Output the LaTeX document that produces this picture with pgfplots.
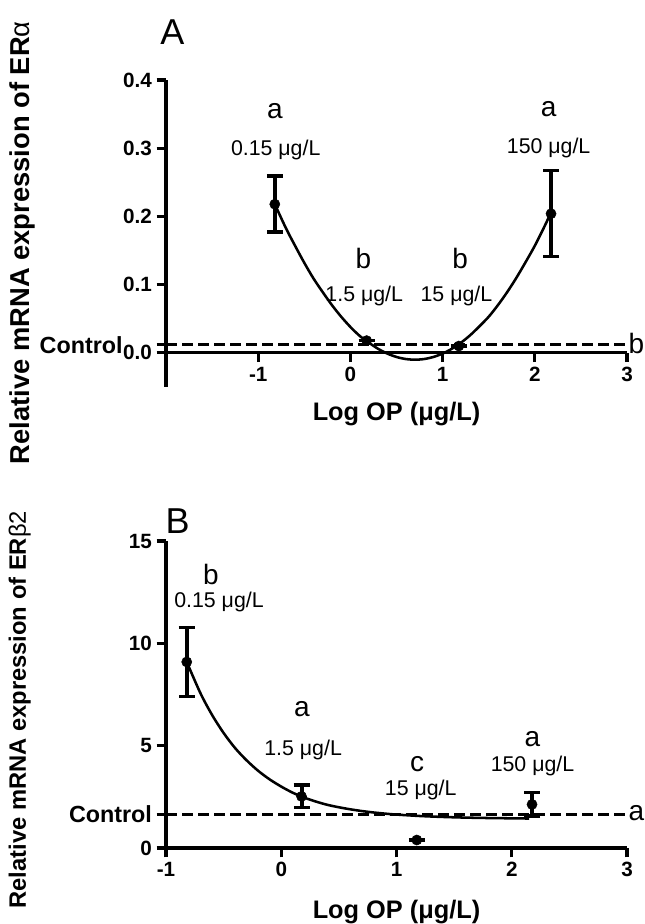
\documentclass[border=0pt]{standalone}
\usepackage{fontspec}
\setmainfont{Liberation Sans}
\usepackage{pgfplots}
\pgfplotsset{compat=1.18}

\newcommand{\ann}{\fontsize{16}{18}\selectfont}
\newcommand{\grp}{\fontsize{21}{24}\selectfont}

\pgfplotsset{
  panel/.style={
    scale only axis, width=345.75pt, height=230.25pt,
    axis y line*=left,
    axis line style={line width=2.4pt},
    every tick/.style={line width=2.4pt, black},
    tick align=outside, major tick length=7pt,
    tick label style={font=\fontsize{15.5}{16}\selectfont\bfseries},
    label style={font=\fontsize{19}{21}\selectfont\bfseries},
    hide obscured x ticks=false, hide obscured y ticks=false,
    clip=false,
  },
  ctrl/.style={dashed, dash pattern=on 8pt off 4pt, line width=2.2pt, black},
  fit/.style={line width=1.9pt, black, smooth},
  pts/.style={only marks, mark=*, mark size=3.8pt, black,
    error bars/.cd, y dir=both, y explicit,
    error bar style={line width=3pt},
    error mark options={rotate=90, mark size=6pt, line width=2.6pt}},
}

\begin{document}
\begin{tikzpicture}
\path[use as bounding box] (0,0) rectangle (483pt,693pt);

% panel A
\begin{axis}[panel, at={(124.5pt,402.75pt)}, anchor=south west,
  axis x line*=middle, xtick align=outside,
  xmin=-2, xmax=3, ymin=-0.05, ymax=0.4,
  xtick={-1,0,1,2,3}, xticklabels={-1,0,1,2,3},
  ytick={0,0.1,0.2,0.3,0.4}, yticklabels={0.0,0.1,0.2,0.3,0.4},
  extra y ticks={0.012}, extra y tick labels={Control},
  extra y tick style={tick label style={xshift=-22pt, font=\fontsize{17.5}{18}\selectfont\bfseries}},
  xlabel={Log OP (μg/L)},
  xlabel style={at={(axis cs:0.5,0)}, anchor=center, yshift=-46pt},
  ylabel={Relative mRNA expression of ER{\mdseries α}},
  ylabel style={at={(axis description cs:-0.312,0.47)}, anchor=center,
    font=\fontsize{20.5}{22}\selectfont\bfseries},
]
\addplot[ctrl] coordinates {(-2,0.012) (3,0.012)};
\addplot[fit] coordinates {
  (-0.82,0.218) (-0.7,0.183) (-0.6,0.157) (-0.5,0.132) (-0.4,0.109)
  (-0.3,0.089) (-0.2,0.070) (-0.1,0.053) (0.0,0.038) (0.1,0.025)
  (0.2,0.015) (0.3,0.006) (0.4,-0.001) (0.5,-0.006) (0.6,-0.009)
  (0.7,-0.010) (0.8,-0.009) (0.9,-0.006) (1.0,-0.001) (1.1,0.006)
  (1.2,0.015) (1.3,0.026) (1.4,0.039) (1.5,0.053) (1.6,0.070)
  (1.7,0.089) (1.8,0.110) (1.9,0.133) (2.0,0.157) (2.1,0.184) (2.17,0.204)};
\addplot[pts] coordinates {
  (-0.82,0.218) +- (0,0.041)
  (0.176,0.018) +- (0,0)
  (1.176,0.010) +- (0,0)
  (2.176,0.204) +- (0,0.063)};
\node[font=\grp] at (axis cs:-0.82,0.355) {a};
\node[font=\ann] at (axis cs:-0.81,0.297) {0.15 μg/L};
\node[font=\grp] at (axis cs:0.14,0.139) {b};
\node[font=\ann] at (axis cs:0.15,0.083) {1.5 μg/L};
\node[font=\grp] at (axis cs:1.19,0.139) {b};
\node[font=\ann] at (axis cs:1.15,0.083) {15 μg/L};
\node[font=\grp] at (axis cs:2.15,0.357) {a};
\node[font=\ann] at (axis cs:2.15,0.301) {150 μg/L};
\node[font=\grp, anchor=west, inner sep=1pt] at (axis cs:3.0,0.014) {b};
\node[font=\fontsize{27}{29}\selectfont] at (axis cs:-1.93,0.47) {A};
\end{axis}

% panel B
\begin{axis}[panel, at={(124.5pt,57pt)}, anchor=south west,
  axis x line*=bottom,
  xmin=-1, xmax=3, ymin=0, ymax=15,
  xtick={-1,0,1,2,3}, xticklabels={-1,0,1,2,3},
  ytick={0,5,10,15}, yticklabels={0,5,10,15},
  extra y ticks={1.65}, extra y tick labels={Control},
  extra y tick style={tick label style={font=\fontsize{17.5}{18}\selectfont\bfseries}},
  xlabel={Log OP (μg/L)},
  xlabel style={at={(axis cs:1,0)}, anchor=center, yshift=-48pt},
  ylabel={Relative mRNA expression of ER{\mdseries β2}},
  ylabel style={at={(axis description cs:-0.317,0.45)}, anchor=center,
    font=\fontsize{17.8}{20}\selectfont\bfseries},
]
\addplot[ctrl] coordinates {(-1,1.65) (3,1.65)};
\addplot[fit] coordinates {
  (-0.82,9.09) (-0.7,7.55) (-0.6,6.50) (-0.5,5.62) (-0.4,4.88)
  (-0.3,4.28) (-0.2,3.77) (-0.1,3.35) (0.0,3.00) (0.1,2.70)
  (0.2,2.46) (0.3,2.27) (0.4,2.11) (0.5,1.99) (0.6,1.89)
  (0.7,1.805) (0.8,1.736) (0.9,1.68) (1.0,1.633) (1.2,1.564)
  (1.4,1.517) (1.6,1.485) (1.8,1.464) (2.0,1.45) (2.15,1.44)};
\addplot[pts] coordinates {
  (-0.82,9.09) +- (0,1.69)
  (0.176,2.52) +- (0,0.55)
  (1.176,0.39) +- (0,0)
  (2.176,2.13) +- (0,0.57)};
\node[font=\grp] at (axis cs:-0.61,13.37) {b};
\node[font=\ann] at (axis cs:-0.54,12.0) {0.15 μg/L};
\node[font=\grp] at (axis cs:0.18,6.77) {a};
\node[font=\ann] at (axis cs:0.19,4.78) {1.5 μg/L};
\node[font=\grp] at (axis cs:1.18,4.08) {c};
\node[font=\ann] at (axis cs:1.21,2.82) {15 μg/L};
\node[font=\grp] at (axis cs:2.18,5.30) {a};
\node[font=\ann] at (axis cs:2.18,4.03) {150 μg/L};
\node[font=\grp, anchor=west, inner sep=1pt] at (axis cs:3.0,1.72) {a};
\node[font=\fontsize{27}{29}\selectfont] at (axis cs:-0.9,15.95) {B};
\end{axis}
\end{tikzpicture}
\end{document}
